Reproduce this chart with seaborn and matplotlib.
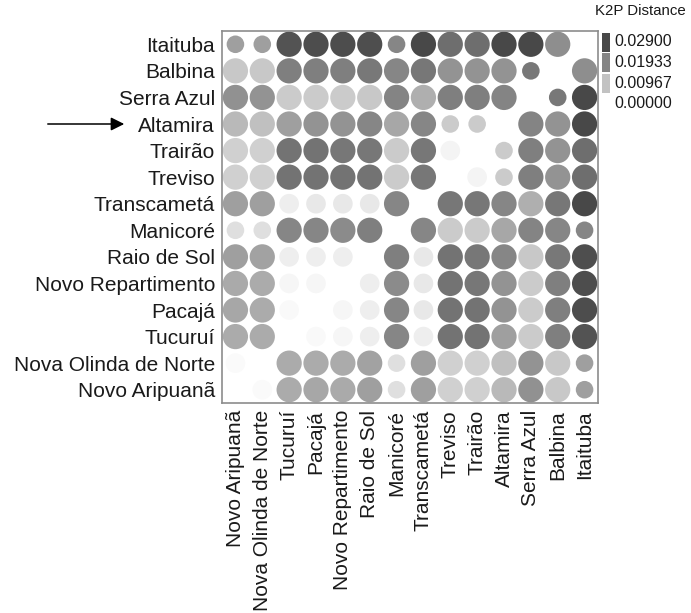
import numpy as np
import pandas as pd
import matplotlib
matplotlib.use("Agg")
import matplotlib.pyplot as plt
import seaborn as sns
from matplotlib.colors import LinearSegmentedColormap
from matplotlib.patches import Rectangle

# populations, top to bottom on the y axis (x axis runs the other way)
sites = ["Itaituba", "Balbina", "Serra Azul", "Altamira", "Trairão", "Treviso",
         "Transcametá", "Manicoré", "Raio de Sol", "Novo Repartimento", "Pacajá",
         "Tucuruí", "Nova Olinda de Norte", "Novo Aripuanã"]

# K2P distance, lower triangle: row i holds distances to sites[0..i-1]
dist_rows = [
    [],
    [0.0178],
    [0.0290, 0.0213],
    [0.0293, 0.0170, 0.0195],
    [0.0229, 0.0170, 0.0203, 0.0082],
    [0.0229, 0.0170, 0.0203, 0.0082, 0.0018],
    [0.0295, 0.0216, 0.0127, 0.0191, 0.0216, 0.0216],
    [0.0191, 0.0191, 0.0195, 0.0139, 0.0082, 0.0082, 0.0191],
    [0.0280, 0.0213, 0.0088, 0.0191, 0.0216, 0.0221, 0.0037, 0.0203],
    [0.0282, 0.0203, 0.0082, 0.0170, 0.0216, 0.0221, 0.0037, 0.0184, 0.0027],
    [0.0282, 0.0203, 0.0082, 0.0170, 0.0221, 0.0221, 0.0037, 0.0191, 0.0027, 0.0014],
    [0.0272, 0.0203, 0.0082, 0.0152, 0.0221, 0.0221, 0.0027, 0.0191, 0.0027, 0.0014, 0.0011],
    [0.0152, 0.0088, 0.0170, 0.0100, 0.0075, 0.0075, 0.0152, 0.0050, 0.0148, 0.0133, 0.0133, 0.0133],
    [0.0152, 0.0088, 0.0174, 0.0110, 0.0075, 0.0075, 0.0152, 0.0050, 0.0152, 0.0135, 0.0139, 0.0133, 0.0008],
]

# circle size class (3 = large, 2 = medium, 1 = small)
level_rows = [
    [],
    [3],
    [3, 1],
    [3, 3, 3],
    [3, 3, 3, 1],
    [3, 3, 3, 1, 2],
    [3, 3, 3, 3, 3, 3],
    [1, 3, 3, 3, 3, 3, 3],
    [3, 3, 3, 3, 3, 3, 2, 3],
    [3, 3, 3, 3, 3, 3, 2, 3, 2],
    [3, 3, 3, 3, 3, 3, 2, 3, 2, 2],
    [3, 3, 3, 3, 3, 3, 2, 3, 2, 2, 2],
    [1, 3, 3, 3, 3, 3, 3, 1, 3, 3, 3, 3],
    [1, 3, 3, 3, 3, 3, 3, 1, 3, 3, 3, 3, 2],
]

legend_vals = [0.02900, 0.01933, 0.00967, 0.00000]

n = len(sites)
D = np.full((n, n), np.nan)
S = np.zeros((n, n), dtype=int)
for i in range(n):
    for j, v in enumerate(dist_rows[i]):
        D[i, j] = D[j, i] = v
        S[i, j] = S[j, i] = level_rows[i][j]

recs = []
for i in range(n):
    for j in range(n):
        if i == j:
            continue
        recs.append({"row": i, "col": n - 1 - j, "dist": D[i, j], "level": S[i, j]})
df = pd.DataFrame(recs)

sns.set_style("white")
plt.rcParams["font.family"] = ["Liberation Sans", "DejaVu Sans"]

cmap = LinearSegmentedColormap.from_list("k2p", ["#ffffff", "#484848"])

W, H = 691, 613
fig = plt.figure(figsize=(W / 100, H / 100), dpi=100)
ax = fig.add_axes([222 / W, 1 - 403 / H, 376 / W, 372 / H])

sns.scatterplot(data=df, x="col", y="row", hue="dist", size="level",
                sizes={1: 160, 2: 200, 3: 330}, palette=cmap, hue_norm=(0, 0.029),
                edgecolor="none", linewidth=0, legend=False, ax=ax)

ax.set_xlim(-0.5, n - 0.5)
ax.set_ylim(n - 0.5, -0.5)
ax.set_xticks(range(n))
ax.set_xticklabels(sites[::-1], rotation=90, fontsize=15, color="#1a1a1a")
ax.set_yticks(range(n))
ax.set_yticklabels(sites, fontsize=15, color="#1a1a1a")
ax.tick_params(length=0, pad=5)
ax.set_xlabel("")
ax.set_ylabel("")
for sp in ax.spines.values():
    sp.set_color("#8c8c8c")
    sp.set_linewidth(1.2)

# arrow pointing at Altamira
ax.annotate("", xy=(127 / W, sites.index("Altamira")),
            xytext=(45 / W, sites.index("Altamira")),
            xycoords=("figure fraction", "data"), textcoords=("figure fraction", "data"),
            arrowprops=dict(arrowstyle="-|>", color="black", lw=1.1, mutation_scale=20),
            annotation_clip=False)

# colour key, top right
fig.text(595 / W, 1 - 11 / H, "K2P Distance", fontsize=10.8, va="center", ha="left",
         color="#1a1a1a", fontweight="medium")
for k, v in enumerate(legend_vals):
    yc = 42 + 20.5 * k
    if v > 0:
        fig.add_artist(Rectangle((602 / W, 1 - (yc + 9.5) / H), 8 / W, 19 / H,
                                 transform=fig.transFigure, facecolor=cmap(v / 0.029),
                                 edgecolor="none"))
    fig.text(614 / W, 1 - yc / H, f"{v:.5f}", fontsize=11.5, va="center", ha="left",
             color="#1a1a1a")

fig.savefig("out.png", dpi=100)
